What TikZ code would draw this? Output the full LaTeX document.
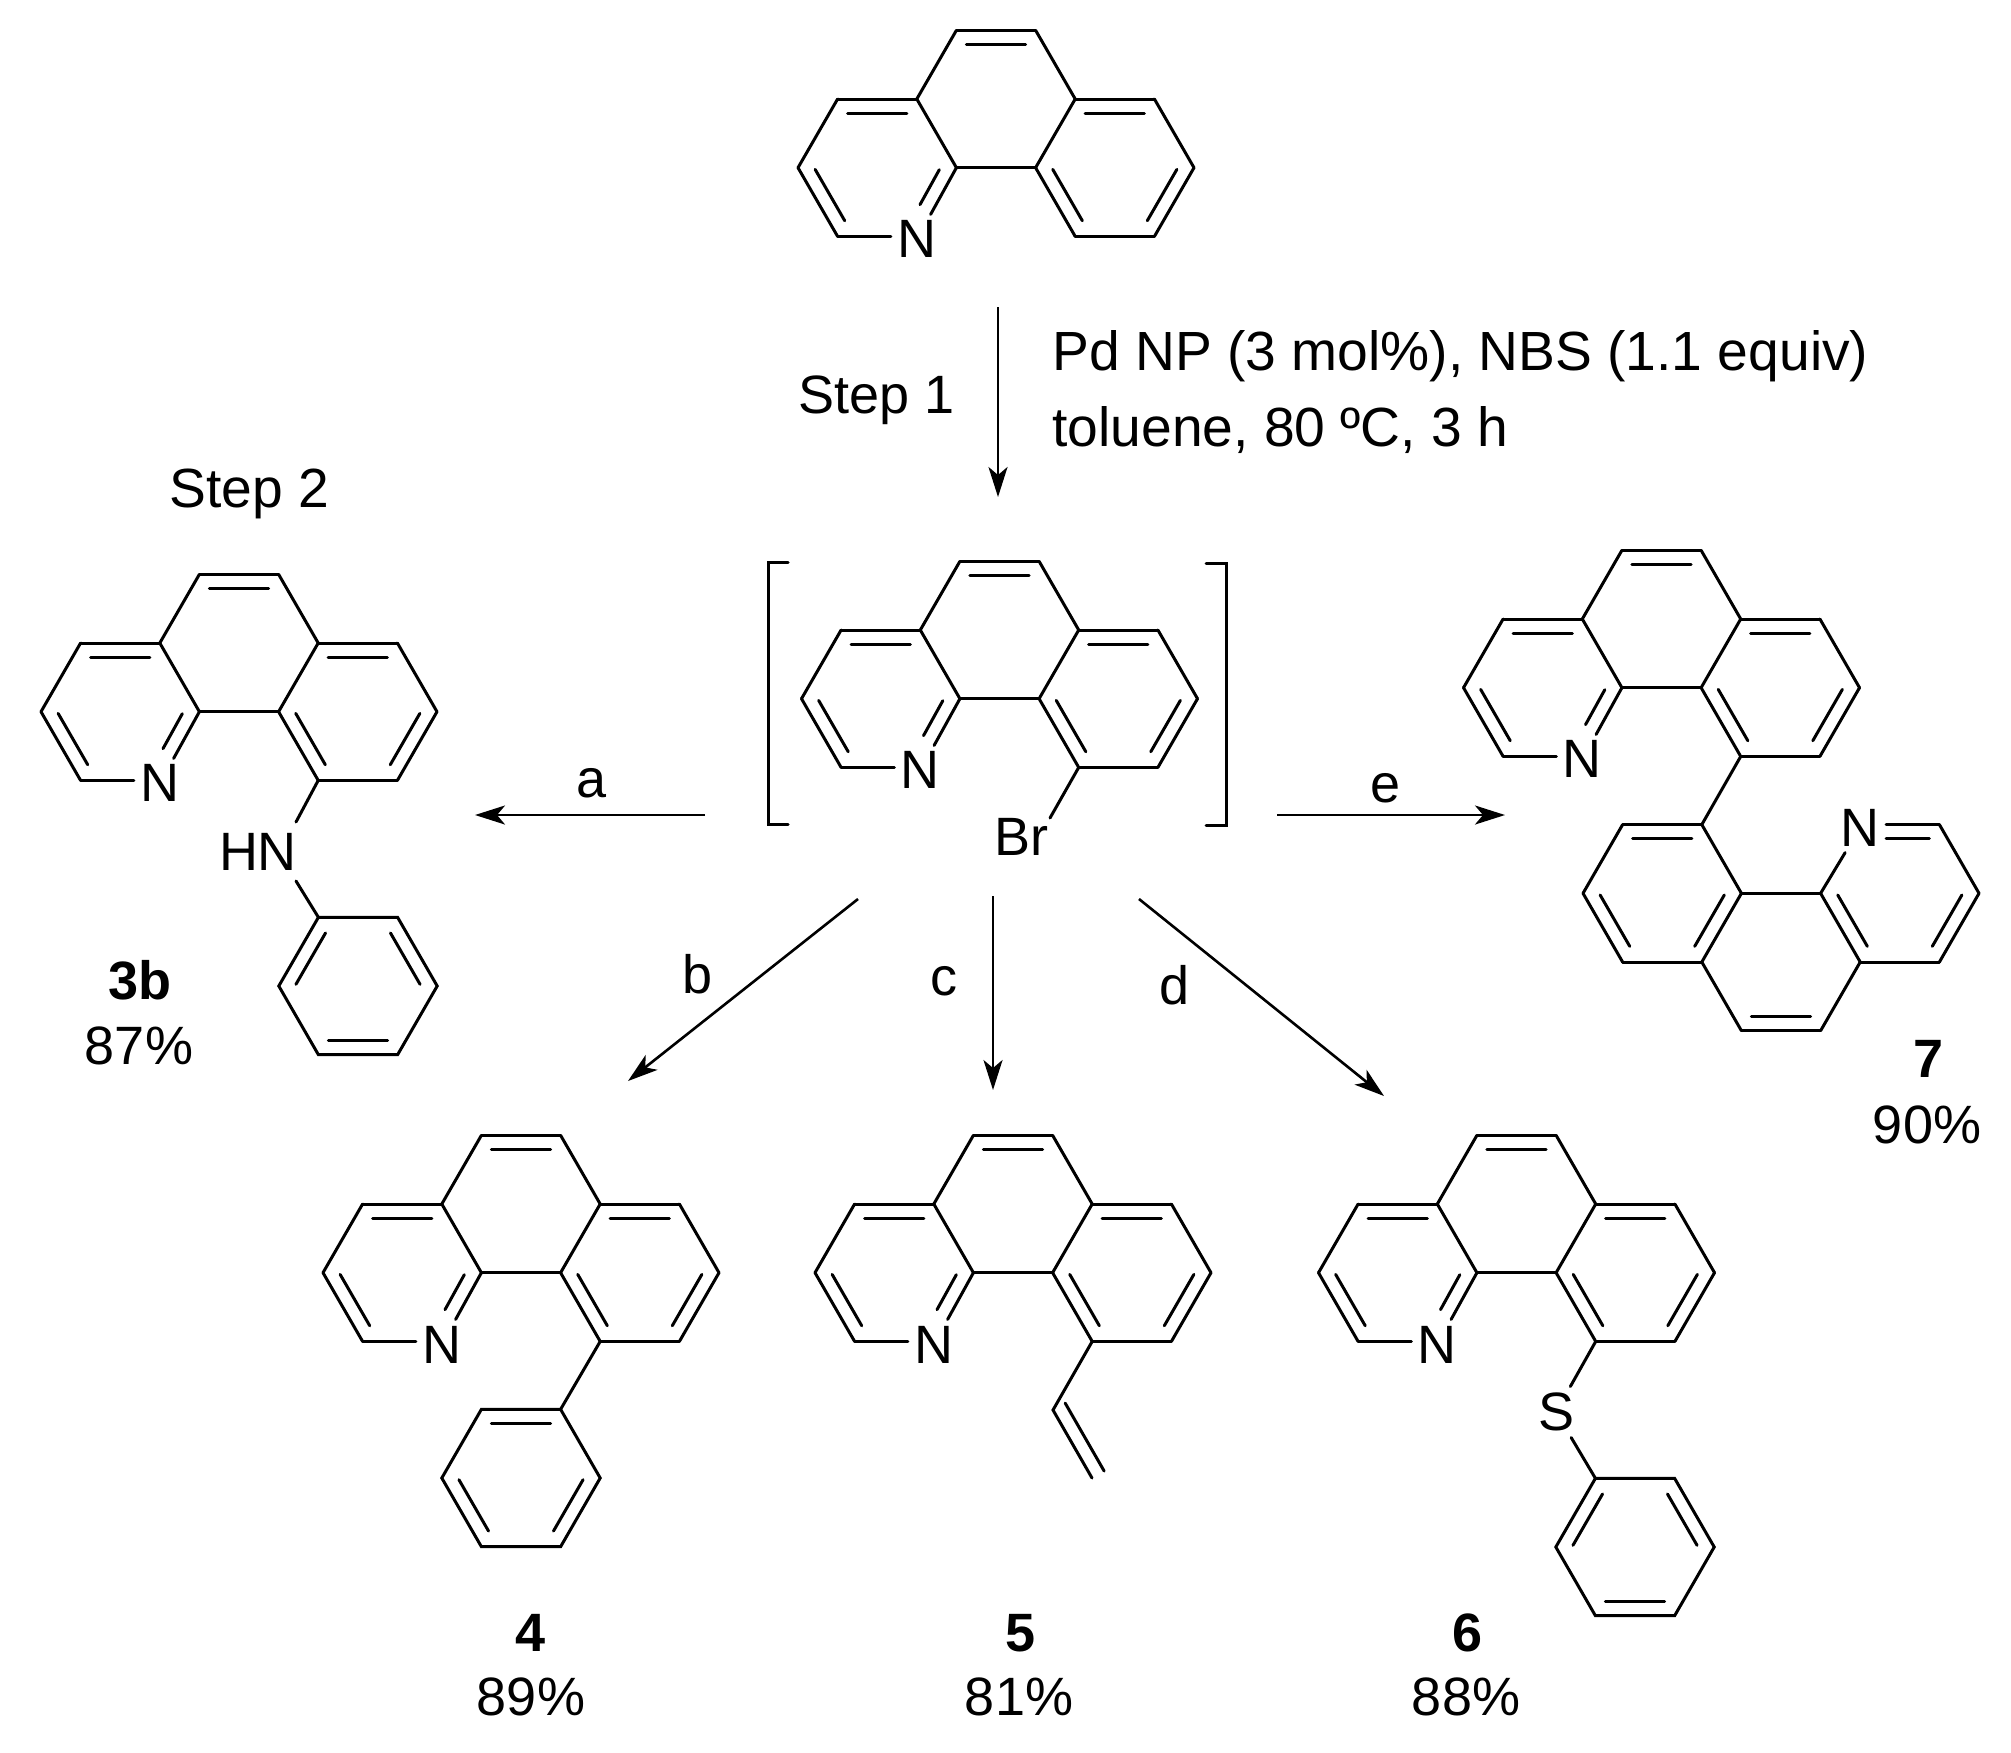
\documentclass[tikz,border=0pt]{standalone}
\usepackage{fontspec}
\setmainfont{Liberation Sans}
\usetikzlibrary{arrows.meta,calc}
\tikzset{
  bond/.style={line width=1.5pt,line cap=round},
  rxn/.style={line width=1.3pt,-{Stealth[length=15pt,width=9.5pt,inset=4pt]}},
  atom/.style={inner sep=3pt},
  txt/.style={inner sep=0pt,anchor=base},
  txtl/.style={inner sep=0pt,anchor=base west},
  lab/.style={txt,font=\fontsize{27}{32}\selectfont\bfseries},
  cond/.style={txtl,font=\fontsize{27.6}{32}\selectfont}
}
\newcommand{\dbl}[3][]{\draw [bond,#1] ($(#2)!5pt!(#3)!7pt!-90:(#3)$) -- ($(#3)!5pt!(#2)!7pt!90:(#2)$);}
\newcommand{\tricycle}[4]{%
  \foreach \n/\a/\b in {a/-1/-1,b/1/-1,c/2/0,d/1/1,e/-1/1,f/-2/0,g/-4/0,h/-5/1,i/-4/2,j/4/0,k/5/1,l/4/2,m/2/2}
    \coordinate (#1\n) at ({#2+#4*\a*39.6},{#3+#4*\b*68.7});
  \node [atom] (#1N) at ({#2-#4*79.2},{#3+#4*137.4+3}) {N};
  \foreach \p/\q in {a/b,b/c,c/d,d/e,e/f,f/a,f/g,g/h,h/i,N/e,c/j,j/k,k/l,l/m,m/d}
    \draw [bond] (#1\p) -- (#1\q);
  \dbl{#1a}{#1b}
}
\newcommand{\upperdbl}[1]{%
  \draw [bond] (#1i) -- (#1i -| #1N.west);
  \dbl{#1g}{#1f} \dbl{#1i}{#1h} \dbl[shorten >=11pt]{#1e}{#1N}
  \dbl{#1c}{#1j} \dbl{#1k}{#1l} \dbl{#1m}{#1d}
}
\newcommand{\benzene}[3]{%
  \foreach \n/\a/\b in {1/-1/-1,2/1/-1,3/2/0,4/1/1,5/-1/1,6/-2/0}
    \coordinate (#1\n) at ({#2+\a*39.6},{#3+\b*68.7});
  \draw [bond] (#11) -- (#12) -- (#13) -- (#14) -- (#15) -- (#16) -- cycle;
}
\begin{document}
\begin{tikzpicture}[x=0.5pt,y=-0.5pt,font=\fontsize{27}{32}\selectfont]
  \useasboundingbox (0,0) rectangle (2011,1752);
  % start material
  \tricycle{t}{996}{99}{1} \upperdbl{t}
  \coordinate (s1a) at (998,307);
  \coordinate (s1b) at (998,497);
  \draw [rxn] (s1a) -- (s1b);
  \node [txtl] (stepA) at (798,413) {Step 1};
  \node [cond] (condA) at (1052,370) {Pd NP (3 mol\%), NBS (1.1 equiv)};
  \node [cond] (condB) at (1052,446) {toluene, 80 ºC, 3 h};
  \node [cond] (stepB) at (169,507) {Step 2};
  % bromide in brackets
  \tricycle{x}{999.5}{630}{1} \upperdbl{x}
  \node [txtl] (br) at (994,855) {Br};
  \coordinate (xbr) at (1050,818);
  \draw [bond] (xm) -- (xbr);
  \draw [bond] (788,562) -- (768,562) -- (768,824) -- (788,824);
  \draw [bond] (1206,563) -- (1226,563) -- (1226,825) -- (1206,825);
  % 3b
  \tricycle{p}{239}{643}{1} \upperdbl{p}
  \benzene{pp}{358}{986}
  \dbl{pp6}{pp1} \dbl{pp2}{pp3} \dbl{pp4}{pp5}
  \node [txt] (hn) at (258,870) {HN};
  \coordinate (hnA) at (296,822);
  \coordinate (hnB) at (296,881);
  \draw [bond] (pm) -- (hnA);
  \draw [bond] (hnB) -- (pp1);
  \node [lab] (lp) at (140,999) {3b};
  \node [txt] (yp) at (139,1064) {87\%};
  % 7
  \tricycle{u}{1661.5}{619}{1} \upperdbl{u}
  \tricycle{v}{1781}{962}{-1}
  \coordinate (vn) at (vi -| vN);
  \draw [bond] (vi) -- (vi -| vN.east);
  \dbl{vl}{vm} \dbl{vd}{vc} \dbl{vj}{vk}
  \dbl[shorten <=8pt]{vn}{vi} \dbl{vh}{vg} \dbl{vf}{ve}
  \draw [bond] (um) -- (vm);
  \node [lab] (lv) at (1928,1077) {7};
  \node [txt] (yv) at (1927,1143) {90\%};
  % 4
  \tricycle{f}{521}{1204}{1} \upperdbl{f}
  \benzene{fp}{521}{1478}
  \dbl{fp1}{fp2} \dbl{fp3}{fp4} \dbl{fp5}{fp6}
  \draw [bond] (fm) -- (fp2);
  \node [lab] (lf) at (531,1651) {4};
  \node [txt] (yf) at (531,1715) {89\%};
  % 5
  \tricycle{g}{1013}{1204}{1} \upperdbl{g}
  \coordinate (va) at (1053,1410);
  \coordinate (vb) at (1092,1478);
  \draw [bond] (gm) -- (va) -- (vb);
  \dbl[shorten >=-5pt,shorten <=-5pt]{vb}{va}
  \node [lab] (lg) at (1021,1651) {5};
  \node [txt] (yg) at (1019,1715) {81\%};
  % 6
  \tricycle{s}{1516.5}{1204}{1} \upperdbl{s}
  \benzene{sp}{1635}{1547}
  \dbl{sp6}{sp1} \dbl{sp2}{sp3} \dbl{sp4}{sp5}
  \node [atom] (sul) at (1556,1412) {S};
  \draw [bond] (sm) -- (sul);
  \draw [bond] (sul) -- (sp1);
  \node [lab] (ls) at (1467,1651) {6};
  \node [txt] (ys) at (1466,1715) {88\%};
  % arrows of step 2
  \coordinate (aa) at (705,815);
  \coordinate (ab) at (475,815);
  \draw [rxn] (aa) -- (ab);
  \node [txt] (la) at (592,797) {a};
  \coordinate (ba) at (858,899);
  \coordinate (bb) at (628,1081);
  \draw [rxn] (ba) -- (bb);
  \node [txt] (lb) at (698,993) {b};
  \coordinate (ca) at (993,896);
  \coordinate (cb) at (993,1090);
  \draw [rxn] (ca) -- (cb);
  \node [txt] (lc) at (944,995) {c};
  \coordinate (da) at (1139,899);
  \coordinate (db) at (1384,1096);
  \draw [rxn] (da) -- (db);
  \node [txt] (ld) at (1174,1004) {d};
  \coordinate (ea) at (1277,815);
  \coordinate (eb) at (1505,815);
  \draw [rxn] (ea) -- (eb);
  \node [txt] (le) at (1385,802) {e};
\end{tikzpicture}
\end{document}
